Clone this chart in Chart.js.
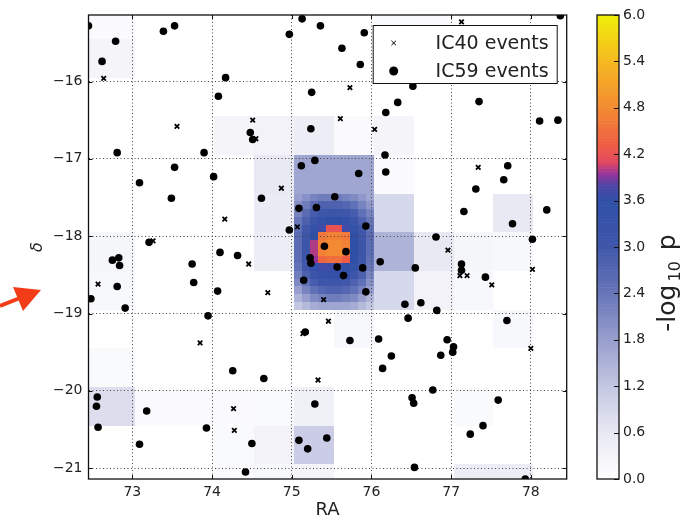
<!DOCTYPE html>
<html>
<head>
<meta charset="utf-8">
<script src="https://cdn.jsdelivr.net/npm/chart.js@4.4.0/dist/chart.umd.min.js"></script>
<style>
  html, body { margin: 0; padding: 0; background: #fff; }
  #wrap { position: relative; width: 695px; height: 521px; }
  #wrap canvas { position: absolute; left: 0; top: 0; }
</style>
</head>
<body>
<div id="wrap">
  <canvas id="sky" width="695" height="521"></canvas>
  <canvas id="cbar" width="695" height="521"></canvas>
</div>
<script>
// axis ticks
const raTicks = [73, 74, 75, 76, 77, 78];
const decTicks = [-21, -20, -19, -18, -17, -16];
const cbTicks = [0.0, 0.6, 1.2, 1.8, 2.4, 3.0, 3.6, 4.2, 4.8, 5.4, 6.0];

// IC59 events (RA, dec)
const ic59Ra = [72.45, 72.79, 72.62, 73.39, 73.53, 74.97, 75.13, 75.36, 74.17, 74.08,
  75.25, 75.24, 74.48, 74.51, 72.81, 73.90, 73.53, 73.09, 74.02, 73.49,
  74.62, 75.12, 75.29, 75.09, 75.31, 74.97, 73.21, 75.41, 74.10, 74.32,
  75.91, 75.63, 75.86, 78.37, 76.52, 76.33, 76.18, 77.35, 78.11, 78.34,
  76.17, 76.18, 75.84, 75.54, 77.71, 77.66, 77.31, 77.16, 78.20, 77.77,
  75.93, 76.81, 78.02, 75.68, 72.75, 72.83, 72.84, 72.81, 72.48, 72.91,
  73.75, 73.77, 74.07, 73.95, 75.23, 75.24, 75.15, 75.17, 74.26, 74.65,
  72.56, 72.55, 72.57, 73.18, 73.93, 73.09, 74.50, 74.42, 75.29, 75.09,
  75.20, 75.44, 75.57, 75.65, 75.89, 75.93, 76.11, 76.55, 76.42, 76.62,
  76.82, 76.46, 77.13, 77.13, 77.43, 77.70, 75.73, 76.09, 76.25, 76.14,
  76.95, 77.03, 77.02, 76.87, 76.77, 76.51, 76.53, 77.59, 77.40, 77.24,
  76.54, 77.93];
const ic59Dec = [-15.28, -15.48, -15.74, -15.35, -15.28, -15.39, -15.19, -15.28, -15.95, -16.19,
  -16.14, -16.61, -16.66, -16.75, -16.92, -16.92, -17.11, -17.31, -17.23, -17.51,
  -17.51, -17.09, -17.02, -17.64, -17.63, -17.92, -18.08, -18.13, -18.21, -18.25,
  -15.37, -15.57, -15.78, -15.15, -16.06, -16.27, -16.40, -16.26, -16.51, -16.50,
  -16.95, -17.17, -17.19, -17.49, -17.09, -17.27, -17.39, -17.68, -17.66, -17.84,
  -17.87, -18.01, -18.04, -18.20, -18.31, -18.28, -18.38, -18.65, -18.81, -18.93,
  -18.36, -18.60, -18.71, -19.03, -18.28, -18.35, -18.57, -19.24, -19.74, -19.84,
  -20.08, -20.20, -20.47, -20.26, -20.48, -20.69, -20.68, -21.05, -20.17, -20.64,
  -20.75, -20.61, -18.40, -18.51, -18.41, -18.72, -18.33, -18.41, -18.88, -18.86,
  -18.96, -19.06, -18.36, -18.44, -18.53, -19.09, -19.35, -19.33, -19.55, -19.71,
  -19.34, -19.43, -19.50, -19.54, -19.99, -20.09, -20.16, -20.12, -20.45, -20.56,
  -20.99, -21.14];

// IC40 events (RA, dec)
const ic40Ra = [72.64, 73.56, 74.51, 74.55, 74.87, 74.16, 75.07, 73.26, 77.13, 75.73,
  75.61, 76.04, 77.34, 76.96, 72.57, 74.46, 74.70, 75.40, 73.85, 75.14,
  75.33, 74.27, 74.28, 75.46, 77.11, 77.20, 77.51, 78.02, 78.00];
const ic40Dec = [-15.96, -16.58, -16.50, -16.74, -17.38, -17.78, -17.88, -18.06, -15.23, -16.08,
  -16.48, -16.62, -17.11, -18.18, -18.62, -18.36, -18.73, -18.82, -19.38, -19.26,
  -19.86, -20.23, -20.51, -19.10, -18.51, -18.51, -18.63, -18.43, -19.45];

// -log10 p on the coarse sky grid (rows run north to south)
const coarseRaEdges = [72.45, 73.03, 73.53, 74.03, 74.53, 75.03, 75.53, 76.03, 76.53, 77.03, 77.53, 78.03, 78.45];
const coarseDecEdges = [-15.14, -15.45, -15.95, -16.45, -16.95, -17.45, -17.95, -18.45, -18.95, -19.45, -19.95, -20.45, -20.95, -21.14];
const coarseLogP = [
  [0.10, 0, 0, 0, 0, 0, 0, 0.15, 0.10, 0, 0, 0],
  [0.30, 0, 0, 0, 0, 0, 0, 0, 0, 0, 0, 0],
  [0, 0, 0, 0, 0, 0, 0, 0, 0, 0, 0, 0],
  [0, 0, 0, 0.30, 0.35, 0.50, 0.10, 0.30, 0, 0, 0, 0],
  [0, 0, 0, 0, 0.60, 1.70, 1.70, 0.10, 0, 0, 0, 0],
  [0, 0, 0, 0, 0.55, 0, 0, 0.90, 0, 0, 0.60, 0],
  [0.25, 0, 0, 0, 0.50, 0, 0, 1.50, 0.60, 0.25, 0.20, 0],
  [0.20, 0, 0, 0, 0, 0, 0, 0.90, 0.35, 0.20, 0, 0],
  [0, 0, 0, 0, 0, 0, 0.20, 0, 0, 0, 0.20, 0],
  [0.15, 0, 0, 0, 0, 0, 0, 0, 0, 0, 0, 0],
  [0.80, 0.10, 0.10, 0.10, 0.15, 0.40, 0, 0, 0, 0.15, 0, 0],
  [0, 0, 0, 0.15, 0.35, 1.10, 0, 0, 0, 0, 0, 0],
  [0, 0, 0, 0.10, 0.20, 0.30, 0, 0, 0, 0.50, 0.50, 0]
];

// finer grid around the hotspot
const fineRaEdges = [75.03, 75.13, 75.23, 75.33, 75.43, 75.53, 75.63, 75.73, 75.83, 75.93, 76.03];
const fineDecEdges = [-17.45, -17.55, -17.65, -17.75, -17.85, -17.95, -18.05, -18.15, -18.25,
  -18.35, -18.45, -18.55, -18.65, -18.75, -18.85, -18.95];
const fineLogP = [
  [1.8, 2.0, 2.2, 2.3, 2.3, 2.3, 2.2, 2.1, 1.9, 1.7],
  [2.0, 2.3, 2.6, 2.8, 2.8, 2.8, 2.7, 2.5, 2.2, 1.9],
  [2.2, 2.6, 2.9, 3.1, 3.2, 3.2, 3.1, 2.9, 2.5, 2.2],
  [2.4, 2.8, 3.2, 3.5, 3.6, 3.6, 3.5, 3.2, 2.8, 2.4],
  [2.5, 3.0, 3.4, 3.7, 4.2, 4.2, 3.7, 3.4, 3.0, 2.5],
  [2.6, 3.1, 3.6, 4.6, 4.7, 4.7, 4.6, 3.6, 3.1, 2.6],
  [2.6, 3.2, 4.0, 4.7, 4.8, 4.8, 4.7, 3.6, 3.2, 2.6],
  [2.6, 3.2, 4.0, 4.7, 4.8, 4.8, 4.6, 3.6, 3.2, 2.6],
  [2.6, 3.1, 3.95, 4.4, 4.5, 4.5, 4.3, 3.6, 3.1, 2.5],
  [2.5, 3.0, 3.5, 3.7, 3.7, 3.7, 3.6, 3.4, 3.0, 2.4],
  [2.3, 2.8, 3.2, 3.4, 3.5, 3.5, 3.4, 3.1, 2.8, 2.2],
  [2.1, 2.5, 2.9, 3.1, 3.1, 3.1, 3.0, 2.8, 2.5, 2.0],
  [1.8, 2.2, 2.5, 2.7, 2.8, 2.8, 2.7, 2.5, 2.2, 1.8],
  [1.5, 1.8, 2.1, 2.2, 2.3, 2.3, 2.2, 2.1, 1.8, 1.5],
  [1.2, 1.4, 1.6, 1.7, 1.7, 1.7, 1.7, 1.6, 1.4, 1.2]
];

// colour map: white -> lavender -> blue -> magenta -> red -> orange -> yellow
const cmapStops = [0, 0.6, 1.2, 1.8, 2.4, 3.0, 3.6, 3.8, 3.95, 4.1, 4.3, 4.8, 5.4, 6.0];
const cmapRgb = [[255, 255, 255], [232, 233, 243], [196, 199, 226], [152, 159, 206], [104, 118, 185],
  [64, 87, 170], [48, 80, 168], [78, 70, 165], [150, 52, 155], [226, 72, 96], [238, 92, 70],
  [243, 138, 50], [246, 184, 32], [240, 238, 8]];

function logpColor(v) {
  if (v <= cmapStops[0]) return 'rgb(255,255,255)';
  for (let i = 1; i < cmapStops.length; i++) {
    if (v <= cmapStops[i]) {
      const t = (v - cmapStops[i - 1]) / (cmapStops[i] - cmapStops[i - 1]);
      const a = cmapRgb[i - 1], b = cmapRgb[i];
      return 'rgb(' + a.map((c, k) => Math.round(c + (b[k] - c) * t)).join(',') + ')';
    }
  }
  const c = cmapRgb[cmapRgb.length - 1];
  return 'rgb(' + c.join(',') + ')';
}

const TEXT = '#222';
const FONT = 'DejaVu Sans';
Chart.defaults.font.family = FONT;
Chart.defaults.color = TEXT;

function paintCells(ctx, x, y, raEdges, decEdges, values) {
  for (let r = 0; r < values.length; r++) {
    for (let c = 0; c < values[r].length; c++) {
      const v = values[r][c];
      if (v <= 0) continue;
      const x0 = Math.round(x.getPixelForValue(raEdges[c]));
      const x1 = Math.round(x.getPixelForValue(raEdges[c + 1]));
      const y0 = Math.round(y.getPixelForValue(decEdges[r]));
      const y1 = Math.round(y.getPixelForValue(decEdges[r + 1]));
      ctx.fillStyle = logpColor(v);
      ctx.fillRect(x0, y0, x1 - x0, y1 - y0);
    }
  }
}

const heatmapPlugin = {
  id: 'heatmap',
  beforeDraw(chart) {
    const {ctx, chartArea: a, scales: {x, y}} = chart;
    ctx.save();
    ctx.fillStyle = '#fff';
    ctx.fillRect(a.left, a.top, a.width, a.height);
    ctx.beginPath();
    ctx.rect(a.left, a.top, a.width, a.height);
    ctx.clip();
    paintCells(ctx, x, y, coarseRaEdges, coarseDecEdges, coarseLogP);
    paintCells(ctx, x, y, fineRaEdges, fineDecEdges, fineLogP);
    ctx.restore();
  }
};

// box round the axes, inward tick marks, legend and the red pointer
const framePlugin = {
  id: 'frame',
  afterDraw(chart) {
    const {ctx, chartArea: a, scales: {x, y}} = chart;
    ctx.save();
    ctx.strokeStyle = '#111';
    ctx.lineWidth = 1;
    ctx.beginPath();
    raTicks.forEach(v => {
      const px = Math.round(x.getPixelForValue(v)) + 0.5;
      ctx.moveTo(px, a.bottom); ctx.lineTo(px, a.bottom - 4);
      ctx.moveTo(px, a.top); ctx.lineTo(px, a.top + 4);
    });
    decTicks.forEach(v => {
      const py = Math.round(y.getPixelForValue(v)) + 0.5;
      ctx.moveTo(a.left, py); ctx.lineTo(a.left + 4, py);
      ctx.moveTo(a.right, py); ctx.lineTo(a.right - 4, py);
    });
    ctx.stroke();
    ctx.lineWidth = 1.3;
    ctx.strokeRect(a.left, a.top, a.width, a.height);

    // legend
    const lx = a.right - 194, ly = a.top + 10, lw = 184, lh = 58;
    ctx.fillStyle = '#fff';
    ctx.fillRect(lx, ly, lw, lh);
    ctx.lineWidth = 1;
    ctx.strokeStyle = '#111';
    ctx.strokeRect(lx + 0.5, ly + 0.5, lw, lh);
    const items = chart.data.datasets.slice().sort((p, q) => p.legendRank - q.legendRank);
    items.forEach((ds, i) => {
      const cy = ly + 18 + i * 28;
      ctx.fillStyle = '#000';
      ctx.strokeStyle = '#000';
      Chart.helpers.drawPoint(ctx, {
        pointStyle: ds.pointStyle, rotation: 0,
        radius: ds.pointStyle === 'circle' ? 4.5 : 3.2,
        borderWidth: ds.pointStyle === 'circle' ? 0 : 1.7
      }, lx + 21, cy);
      ctx.fillStyle = TEXT;
      ctx.font = '19px "' + FONT + '"';
      ctx.textBaseline = 'middle';
      ctx.textAlign = 'right';
      ctx.fillText(ds.label, lx + lw - 8, cy + 1);
    });

    // arrow on the left margin
    ctx.fillStyle = '#f23c18';
    ctx.strokeStyle = '#f23c18';
    ctx.lineWidth = 4;
    ctx.beginPath();
    ctx.moveTo(0, 306); ctx.lineTo(20, 298);
    ctx.stroke();
    ctx.beginPath();
    ctx.moveTo(41, 290); ctx.lineTo(13, 287); ctx.lineTo(23, 311);
    ctx.closePath();
    ctx.fill();
    ctx.restore();
  }
};

new Chart(document.getElementById('sky'), {
  type: 'scatter',
  data: {
    datasets: [
      {
        label: 'IC59 events',
        legendRank: 1,
        order: 0,
        data: ic59Ra.map((ra, i) => ({x: ra, y: ic59Dec[i]})),
        pointStyle: 'circle',
        pointRadius: 3.8,
        pointHoverRadius: 3.8,
        backgroundColor: '#000',
        borderWidth: 0,
        clip: 0
      },
      {
        label: 'IC40 events',
        legendRank: 0,
        order: 1,
        data: ic40Ra.map((ra, i) => ({x: ra, y: ic40Dec[i]})),
        pointStyle: 'crossRot',
        pointRadius: 3.2,
        pointHoverRadius: 3.2,
        borderColor: '#000',
        backgroundColor: '#000',
        borderWidth: 1.8,
        clip: 0
      }
    ]
  },
  options: {
    responsive: false,
    animation: false,
    events: [],
    layout: {padding: {left: 24, right: 128.3, top: 15, bottom: 0}},
    plugins: {legend: {display: false}, tooltip: {enabled: false}},
    scales: {
      x: {
        type: 'linear', min: 72.45, max: 78.45,
        afterBuildTicks: s => { s.ticks = raTicks.map(v => ({value: v})); },
        afterFit: s => { s.height = 42; },
        grid: {color: '#444', lineWidth: 1, drawTicks: false},
        border: {display: false, dash: [1, 2.5]},
        ticks: {padding: 5, font: {size: 14}, color: TEXT, callback: v => String(v)},
        title: {display: true, text: 'RA', font: {size: 18}, color: TEXT, padding: {top: 0, bottom: 0}}
      },
      y: {
        type: 'linear', min: -21.14, max: -15.14,
        afterBuildTicks: s => { s.ticks = decTicks.map(v => ({value: v})); },
        afterFit: s => { s.width = 64.5; },
        grid: {color: '#444', lineWidth: 1, drawTicks: false},
        border: {display: false, dash: [1, 2.5]},
        ticks: {padding: 6, font: {size: 14}, color: TEXT,
          callback: v => (v < 0 ? '\u2212' : '') + Math.abs(v)},
        title: {display: true, text: '\u03b4', font: {size: 16, style: 'italic'}, color: TEXT,
          padding: {top: 4, bottom: 0}}
      }
    }
  },
  plugins: [heatmapPlugin, framePlugin]
});

// colour bar
const colorbarPlugin = {
  id: 'colorbar',
  beforeDatasetsDraw(chart) {
    const {ctx, chartArea: a, scales: {y}} = chart;
    ctx.save();
    const step = 0.02;
    for (let v = 0; v < 6; v += step) {
      const top = y.getPixelForValue(Math.min(6, v + step));
      const bottom = y.getPixelForValue(v);
      ctx.fillStyle = logpColor(v + step / 2);
      ctx.fillRect(a.left, top, a.width, bottom - top + 0.6);
    }
    ctx.restore();
  },
  afterDraw(chart) {
    const {ctx, chartArea: a, scales: {y}} = chart;
    ctx.save();
    ctx.strokeStyle = '#111';
    ctx.lineWidth = 1;
    ctx.beginPath();
    cbTicks.forEach(v => {
      const py = Math.round(y.getPixelForValue(v)) + 0.5;
      ctx.moveTo(a.right - 5, py); ctx.lineTo(a.right, py);
    });
    ctx.stroke();
    ctx.lineWidth = 1.3;
    ctx.strokeRect(a.left, a.top, a.width, a.height);

    // axis label  -log10 p
    const big = '25px "' + FONT + '"', small = '16px "' + FONT + '"';
    ctx.font = big;
    const w1 = ctx.measureText('-log').width, w3 = ctx.measureText(' p').width;
    ctx.font = small;
    const w2 = ctx.measureText('10').width;
    const gap = 3;
    const total = w1 + w2 + w3 + 2 * gap;
    ctx.translate(667, 283);
    ctx.rotate(-Math.PI / 2);
    ctx.fillStyle = TEXT;
    ctx.textBaseline = 'alphabetic';
    ctx.textAlign = 'left';
    let cx = -total / 2;
    ctx.font = big;
    ctx.fillText('-log', cx, 8);
    cx += w1 + gap;
    ctx.font = small;
    ctx.fillText('10', cx, 13);
    cx += w2 + gap;
    ctx.font = big;
    ctx.fillText(' p', cx, 8);
    ctx.restore();
  }
};

new Chart(document.getElementById('cbar'), {
  type: 'scatter',
  data: {datasets: []},
  options: {
    responsive: false,
    animation: false,
    events: [],
    layout: {padding: {left: 597, right: 36, top: 15, bottom: 42}},
    plugins: {legend: {display: false}, tooltip: {enabled: false}},
    scales: {
      x: {type: 'linear', display: false, min: 0, max: 1},
      y: {
        type: 'linear', position: 'right', min: 0, max: 6,
        afterBuildTicks: s => { s.ticks = cbTicks.map(v => ({value: v})); },
        afterFit: s => { s.width = 40; },
        grid: {display: false, drawTicks: false},
        border: {display: false},
        ticks: {padding: 4, font: {size: 14}, color: TEXT, callback: v => v.toFixed(1)}
      }
    }
  },
  plugins: [colorbarPlugin]
});
</script>
</body>
</html>
